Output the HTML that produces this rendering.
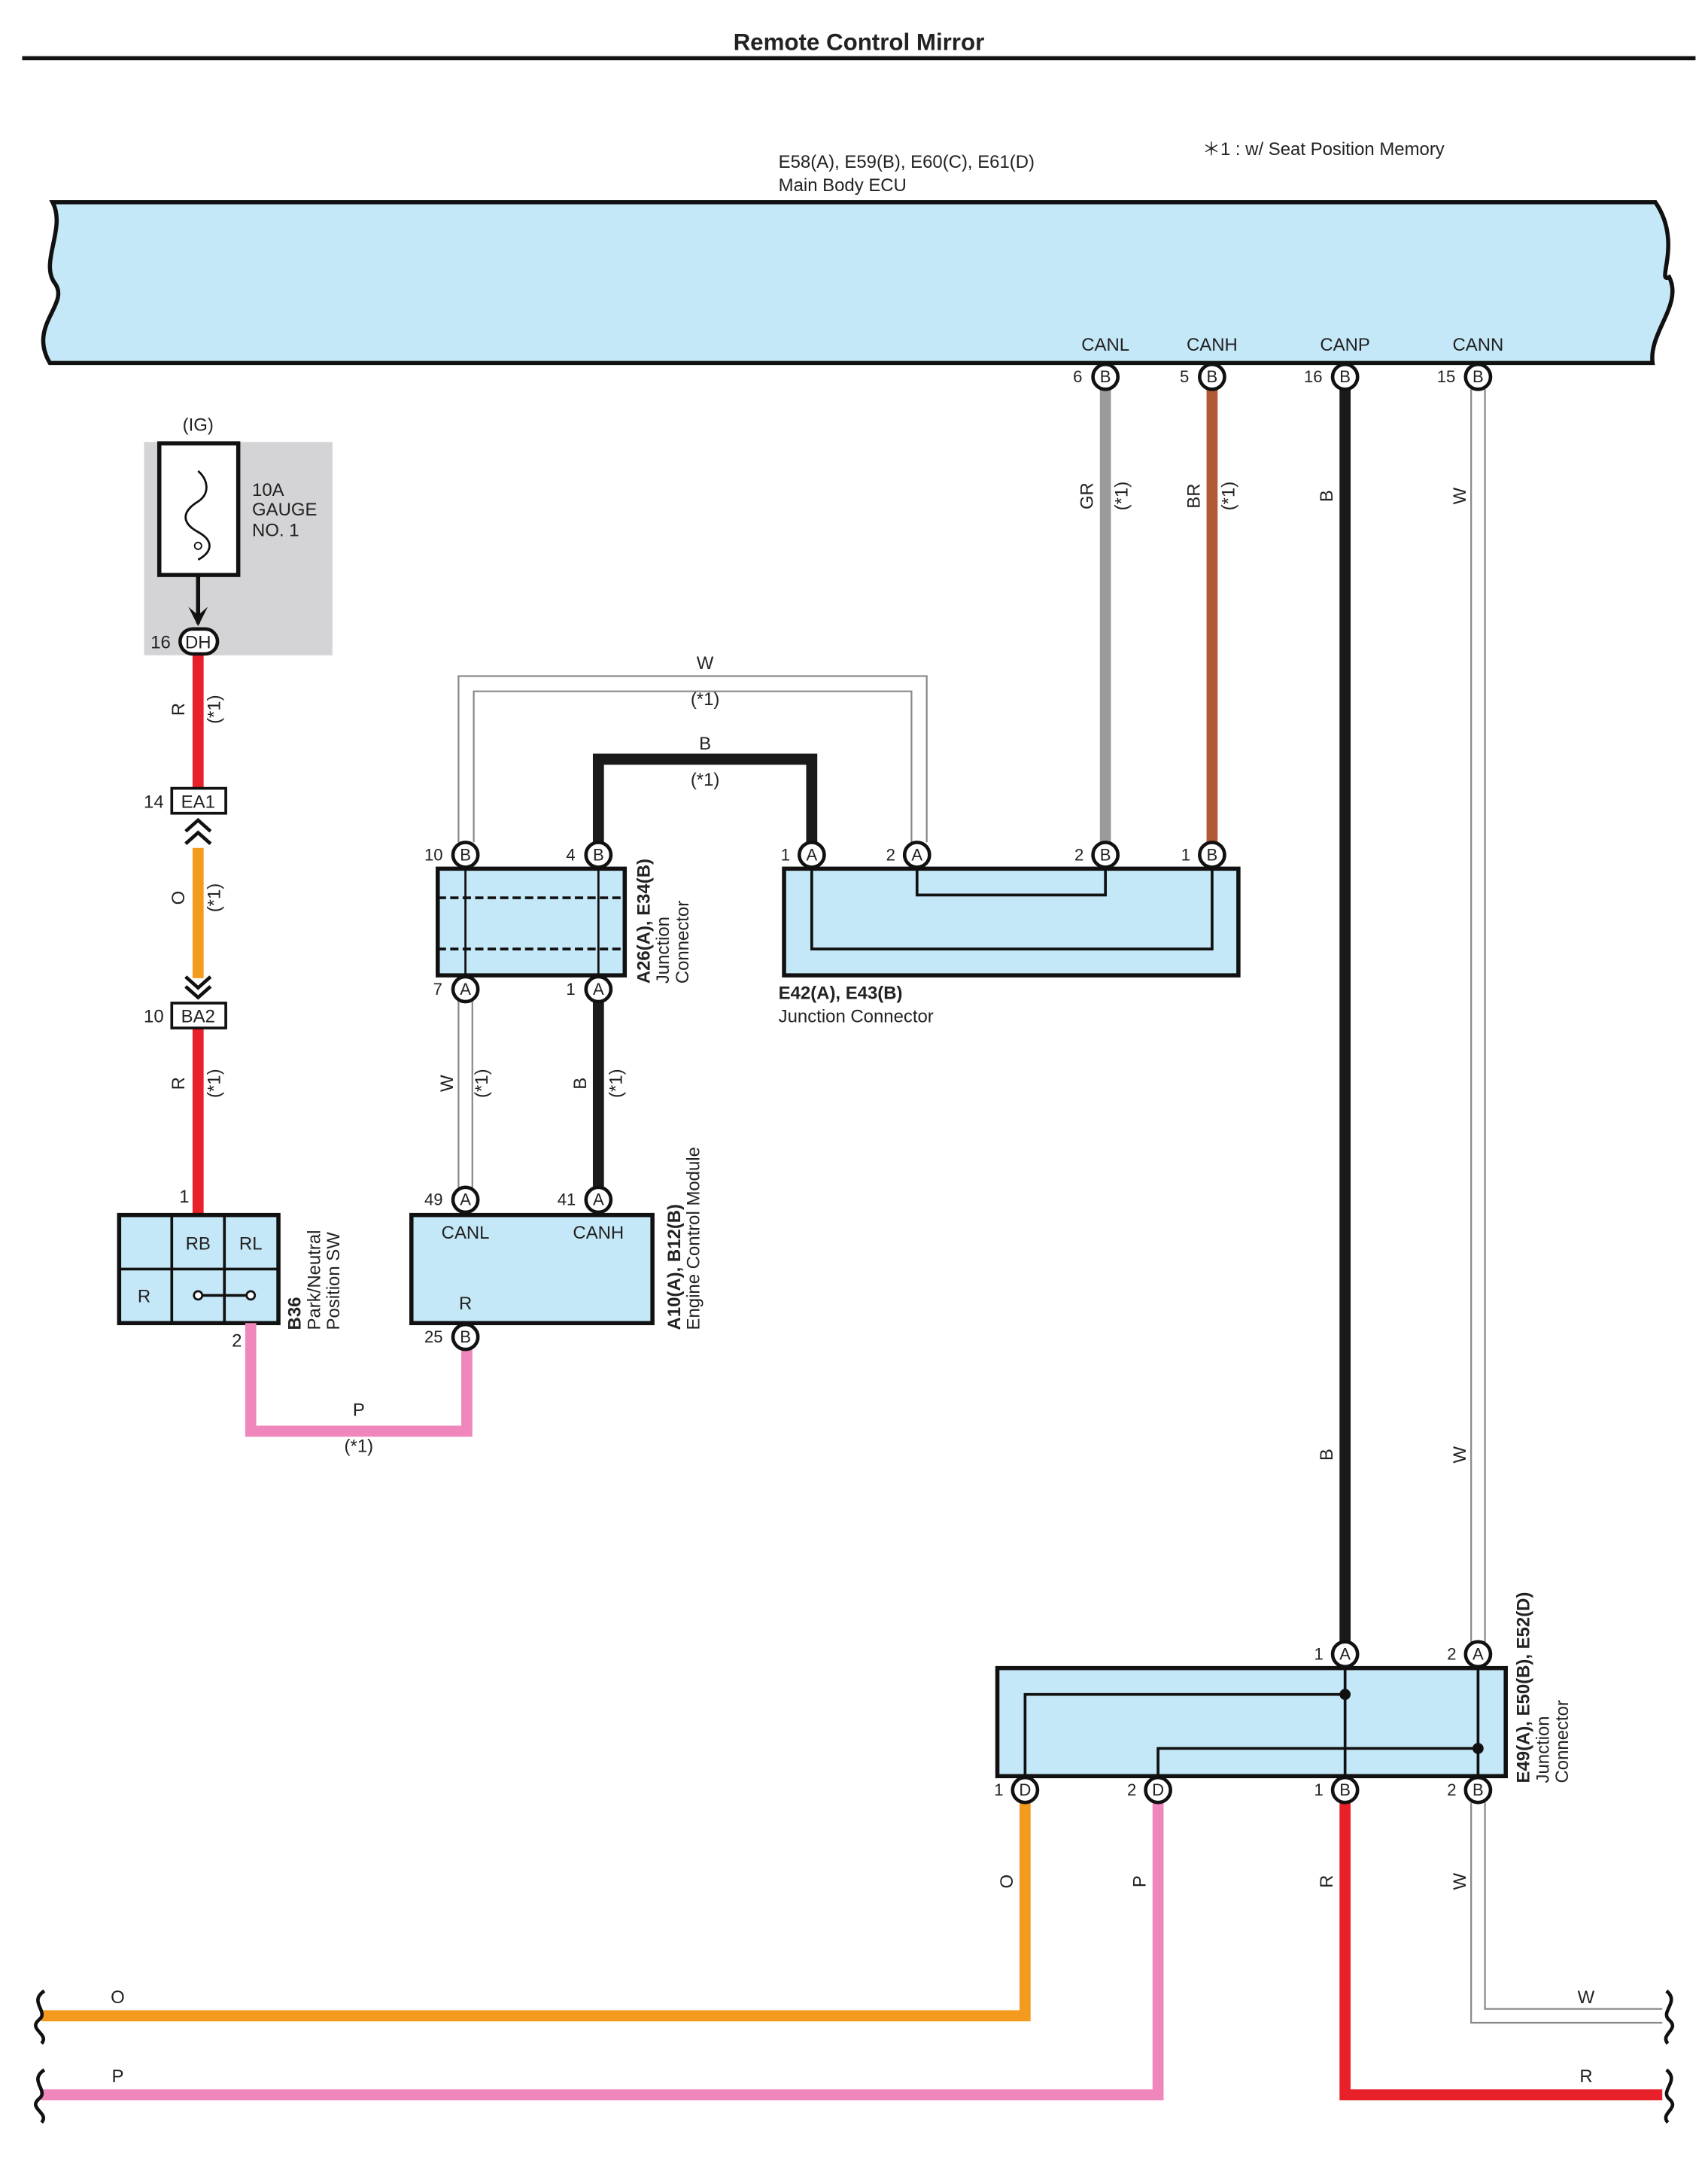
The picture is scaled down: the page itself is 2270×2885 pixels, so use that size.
<!DOCTYPE html>
<html><head><meta charset="utf-8"><style>
html,body{margin:0;padding:0;background:#fff}
svg{display:block}
text{font-family:"Liberation Sans",sans-serif;fill:#222}
</style></head><body>
<svg width="2270" height="2885" viewBox="0 0 1233 1567" preserveAspectRatio="none" xmlns="http://www.w3.org/2000/svg">
<defs>
<g id="pin"><circle r="9" fill="#fff" stroke="#111" stroke-width="2.5"/></g>
</defs>
<text x="620" y="36" font-size="17" font-weight="bold" text-anchor="middle" fill="#000">Remote Control Mirror</text>
<line x1="16" y1="42" x2="1224" y2="42" stroke="#111" stroke-width="3"/>
<text x="868" y="112" font-size="13">＊1 : w/ Seat Position Memory</text>
<text x="562" y="121" font-size="13">E58(A), E59(B), E60(C), E61(D)</text>
<text x="562" y="138" font-size="13">Main Body ECU</text>
<path d="M38 146 L1195 146 C1215 175 1195 205 1205 200 C1215 220 1190 240 1193 262 L36 262 C20 235 50 220 40 205 C28 190 48 165 38 146 Z" fill="#c5e8f8" stroke="#111" stroke-width="3"/>
<g font-size="13" text-anchor="middle">
<text x="798" y="253">CANL</text><text x="875" y="253">CANH</text><text x="971" y="253">CANP</text><text x="1067" y="253">CANN</text>
</g>
<line x1="798" y1="281" x2="798" y2="608" stroke="#9a9a9a" stroke-width="8"/>
<line x1="875" y1="281" x2="875" y2="608" stroke="#b05a36" stroke-width="8"/>
<line x1="971" y1="281" x2="971" y2="1185" stroke="#1a1a1a" stroke-width="8"/>
<line x1="1062" y1="281" x2="1062" y2="1185" stroke="#888" stroke-width="1.2"/>
<line x1="1072" y1="281" x2="1072" y2="1185" stroke="#888" stroke-width="1.2"/>
<g font-size="13" text-anchor="middle">
<text transform="translate(789,358) rotate(-90)">GR</text><text transform="translate(814,358) rotate(-90)">(*1)</text>
<text transform="translate(866,358) rotate(-90)">BR</text><text transform="translate(891,358) rotate(-90)">(*1)</text>
<text transform="translate(962,358) rotate(-90)">B</text><text transform="translate(1058,358) rotate(-90)">W</text>
<text transform="translate(962,1050) rotate(-90)">B</text><text transform="translate(1058,1050) rotate(-90)">W</text>
</g>
<rect x="104" y="319" width="136" height="154" fill="#d4d4d6"/>
<text x="143" y="311" font-size="13" text-anchor="middle">(IG)</text>
<rect x="115" y="320" width="57" height="95" fill="#fff" stroke="#111" stroke-width="3"/>
<path d="M143 362 C130 370 132 378 143 384 C154 390 154 398 143 404 M143 362 C152 356 150 346 143 340" fill="none" stroke="#111" stroke-width="1.5"/>
<circle cx="143" cy="394" r="2.5" fill="none" stroke="#111"/>
<line x1="143" y1="415" x2="143" y2="450" stroke="#111" stroke-width="3"/>
<path d="M136 438 L143 452 L150 438 L143 444 Z" fill="#111"/>
<text x="182" y="358" font-size="13">10A</text><text x="182" y="372" font-size="13">GAUGE</text><text x="182" y="387" font-size="13">NO. 1</text>
<line x1="143" y1="472" x2="143" y2="570" stroke="#e8202a" stroke-width="8"/>
<line x1="143" y1="612" x2="143" y2="706" stroke="#f39a1f" stroke-width="8"/>
<line x1="143" y1="742" x2="143" y2="877" stroke="#e8202a" stroke-width="8"/>
<rect x="130" y="454" width="27" height="18" rx="9" fill="#fff" stroke="#111" stroke-width="2.5"/>
<text x="143" y="468" font-size="13" text-anchor="middle">DH</text><text x="116" y="468" font-size="13" text-anchor="middle">16</text>
<rect x="124" y="569" width="39" height="18" fill="#fff" stroke="#111" stroke-width="2"/>
<text x="143" y="583" font-size="13" text-anchor="middle">EA1</text><text x="111" y="583" font-size="13" text-anchor="middle">14</text>
<path d="M134 600 L143 592 L152 600 M134 609 L143 601 L152 609" fill="none" stroke="#111" stroke-width="2.5"/>
<path d="M134 705 L143 713 L152 705 M134 712 L143 720 L152 712" fill="none" stroke="#111" stroke-width="2.5"/>
<rect x="124" y="724" width="39" height="18" fill="#fff" stroke="#111" stroke-width="2"/>
<text x="143" y="738" font-size="13" text-anchor="middle">BA2</text><text x="111" y="738" font-size="13" text-anchor="middle">10</text>
<g font-size="13" text-anchor="middle">
<text transform="translate(133,512) rotate(-90)">R</text><text transform="translate(159,512) rotate(-90)">(*1)</text>
<text transform="translate(133,648) rotate(-90)">O</text><text transform="translate(159,648) rotate(-90)">(*1)</text>
<text transform="translate(133,782) rotate(-90)">R</text><text transform="translate(159,782) rotate(-90)">(*1)</text>
</g>
<rect x="86" y="877" width="115" height="78" fill="#c5e8f8" stroke="#111" stroke-width="3"/>
<line x1="124" y1="877" x2="124" y2="955" stroke="#111" stroke-width="2"/>
<line x1="162" y1="877" x2="162" y2="955" stroke="#111" stroke-width="2"/>
<line x1="86" y1="916" x2="201" y2="916" stroke="#111" stroke-width="2"/>
<g font-size="13" text-anchor="middle"><text x="143" y="902">RB</text><text x="181" y="902">RL</text><text x="104" y="940">R</text></g>
<line x1="143" y1="935" x2="181" y2="935" stroke="#111" stroke-width="2"/>
<circle cx="143" cy="935" r="3" fill="#fff" stroke="#111" stroke-width="1.5"/><circle cx="181" cy="935" r="3" fill="#fff" stroke="#111" stroke-width="1.5"/>
<text x="133" y="868" font-size="13" text-anchor="middle">1</text><text x="171" y="972" font-size="13" text-anchor="middle">2</text>
<g font-size="13" transform="translate(217,960) rotate(-90)"><text x="0" y="0" font-weight="bold">B36</text><text x="0" y="14">Park/Neutral</text><text x="0" y="28">Position SW</text></g>
<path d="M181 955 L181 1033 L337 1033 L337 974" fill="none" stroke="#ef87bc" stroke-width="8"/>
<text x="259" y="1022" font-size="13" text-anchor="middle">P</text><text x="259" y="1048" font-size="13" text-anchor="middle">(*1)</text>
<rect x="297" y="877" width="174" height="78" fill="#c5e8f8" stroke="#111" stroke-width="3"/>
<g font-size="13" text-anchor="middle"><text x="336" y="894">CANL</text><text x="432" y="894">CANH</text><text x="336" y="945">R</text></g>
<g font-size="13" transform="translate(491,960) rotate(-90)"><text x="0" y="0" font-weight="bold">A10(A), B12(B)</text><text x="0" y="14">Engine Control Module</text></g>
<line x1="331" y1="723" x2="331" y2="857" stroke="#888" stroke-width="1.2"/><line x1="341" y1="723" x2="341" y2="857" stroke="#888" stroke-width="1.2"/>
<line x1="432" y1="723" x2="432" y2="857" stroke="#1a1a1a" stroke-width="8"/>
<g font-size="13" text-anchor="middle">
<text transform="translate(327,782) rotate(-90)">W</text><text transform="translate(352,782) rotate(-90)">(*1)</text>
<text transform="translate(423,782) rotate(-90)">B</text><text transform="translate(449,782) rotate(-90)">(*1)</text>
</g>
<rect x="316" y="627" width="135" height="77" fill="#c5e8f8" stroke="#111" stroke-width="3"/>
<line x1="316" y1="648" x2="451" y2="648" stroke="#111" stroke-width="2" stroke-dasharray="6,3"/>
<line x1="316" y1="685" x2="451" y2="685" stroke="#111" stroke-width="2" stroke-dasharray="6,3"/>
<line x1="336" y1="627" x2="336" y2="704" stroke="#111" stroke-width="1.5"/>
<line x1="432" y1="627" x2="432" y2="704" stroke="#111" stroke-width="1.5"/>
<g font-size="13" transform="translate(469,710) rotate(-90)"><text x="0" y="0" font-weight="bold">A26(A), E34(B)</text><text x="0" y="14">Junction</text><text x="0" y="28">Connector</text></g>
<path d="M331 608 L331 488 L669 488 L669 608" fill="none" stroke="#888" stroke-width="1.2"/>
<path d="M342 608 L342 499 L658 499 L658 608" fill="none" stroke="#888" stroke-width="1.2"/>
<path d="M432 608 L432 548 L586 548 L586 608" fill="none" stroke="#1a1a1a" stroke-width="8"/>
<g font-size="13" text-anchor="middle"><text x="509" y="483">W</text><text x="509" y="509">(*1)</text><text x="509" y="541">B</text><text x="509" y="567">(*1)</text></g>
<rect x="566" y="627" width="328" height="77" fill="#c5e8f8" stroke="#111" stroke-width="3"/>
<path d="M586 627 L586 685 L875 685 L875 627" fill="none" stroke="#111" stroke-width="2"/>
<path d="M662 627 L662 646 L798 646 L798 627" fill="none" stroke="#111" stroke-width="2"/>
<text x="562" y="721" font-size="13" font-weight="bold">E42(A), E43(B)</text>
<text x="562" y="738" font-size="13">Junction Connector</text>
<rect x="720" y="1204" width="367" height="78" fill="#c5e8f8" stroke="#111" stroke-width="3"/>
<path d="M740 1282 L740 1223 L971 1223" fill="none" stroke="#111" stroke-width="2"/>
<line x1="971" y1="1204" x2="971" y2="1282" stroke="#111" stroke-width="2"/>
<path d="M836 1282 L836 1262 L1067 1262" fill="none" stroke="#111" stroke-width="2"/>
<line x1="1067" y1="1204" x2="1067" y2="1282" stroke="#111" stroke-width="2"/>
<circle cx="971" cy="1223" r="4" fill="#111"/><circle cx="1067" cy="1262" r="4" fill="#111"/>
<g font-size="13" transform="translate(1104,1287) rotate(-90)"><text x="0" y="0" font-weight="bold">E49(A), E50(B), E52(D)</text><text x="0" y="14">Junction</text><text x="0" y="28">Connector</text></g>
<path d="M740 1301 L740 1455 L30 1455" fill="none" stroke="#f39a1f" stroke-width="8"/>
<path d="M836 1301 L836 1512 L30 1512" fill="none" stroke="#ef87bc" stroke-width="8"/>
<path d="M971 1301 L971 1512 L1200 1512" fill="none" stroke="#e8202a" stroke-width="8"/>
<path d="M1062 1301 L1062 1460 L1200 1460" fill="none" stroke="#888" stroke-width="1.2"/>
<path d="M1072 1301 L1072 1450 L1200 1450" fill="none" stroke="#888" stroke-width="1.2"/>
<g fill="none" stroke="#111" stroke-width="2.5">
<path d="M32 1437 C20 1445 36 1452 28 1458 C20 1465 36 1468 30 1475"/>
<path d="M32 1494 C20 1502 36 1509 28 1515 C20 1522 36 1525 30 1532"/>
<path d="M1203 1437 C1213 1445 1198 1452 1205 1458 C1213 1465 1198 1468 1204 1475"/>
<path d="M1203 1494 C1213 1502 1198 1509 1205 1515 C1213 1522 1198 1525 1204 1532"/>
</g>
<g font-size="13" text-anchor="middle">
<text transform="translate(731,1358) rotate(-90)">O</text><text transform="translate(827,1358) rotate(-90)">P</text>
<text transform="translate(962,1358) rotate(-90)">R</text><text transform="translate(1058,1358) rotate(-90)">W</text>
<text x="85" y="1446">O</text><text x="85" y="1503">P</text><text x="1145" y="1446">W</text><text x="1145" y="1503">R</text>
</g>
<g font-size="12" text-anchor="middle">
<use href="#pin" x="798" y="272"/><text x="798" y="276">B</text><text x="778" y="276">6</text>
<use href="#pin" x="875" y="272"/><text x="875" y="276">B</text><text x="855" y="276">5</text>
<use href="#pin" x="971" y="272"/><text x="971" y="276">B</text><text x="948" y="276">16</text>
<use href="#pin" x="1067" y="272"/><text x="1067" y="276">B</text><text x="1044" y="276">15</text>
<use href="#pin" x="336" y="617"/><text x="336" y="621">B</text><text x="313" y="621">10</text>
<use href="#pin" x="432" y="617"/><text x="432" y="621">B</text><text x="412" y="621">4</text>
<use href="#pin" x="336" y="714"/><text x="336" y="718">A</text><text x="316" y="718">7</text>
<use href="#pin" x="432" y="714"/><text x="432" y="718">A</text><text x="412" y="718">1</text>
<use href="#pin" x="586" y="617"/><text x="586" y="621">A</text><text x="567" y="621">1</text>
<use href="#pin" x="662" y="617"/><text x="662" y="621">A</text><text x="643" y="621">2</text>
<use href="#pin" x="798" y="617"/><text x="798" y="621">B</text><text x="779" y="621">2</text>
<use href="#pin" x="875" y="617"/><text x="875" y="621">B</text><text x="856" y="621">1</text>
<use href="#pin" x="336" y="866"/><text x="336" y="870">A</text><text x="313" y="870">49</text>
<use href="#pin" x="432" y="866"/><text x="432" y="870">A</text><text x="409" y="870">41</text>
<use href="#pin" x="336" y="965"/><text x="336" y="969">B</text><text x="313" y="969">25</text>
<use href="#pin" x="971" y="1194"/><text x="971" y="1198">A</text><text x="952" y="1198">1</text>
<use href="#pin" x="1067" y="1194"/><text x="1067" y="1198">A</text><text x="1048" y="1198">2</text>
<use href="#pin" x="740" y="1292"/><text x="740" y="1296">D</text><text x="721" y="1296">1</text>
<use href="#pin" x="836" y="1292"/><text x="836" y="1296">D</text><text x="817" y="1296">2</text>
<use href="#pin" x="971" y="1292"/><text x="971" y="1296">B</text><text x="952" y="1296">1</text>
<use href="#pin" x="1067" y="1292"/><text x="1067" y="1296">B</text><text x="1048" y="1296">2</text>
</g>
</svg>
</body></html>
